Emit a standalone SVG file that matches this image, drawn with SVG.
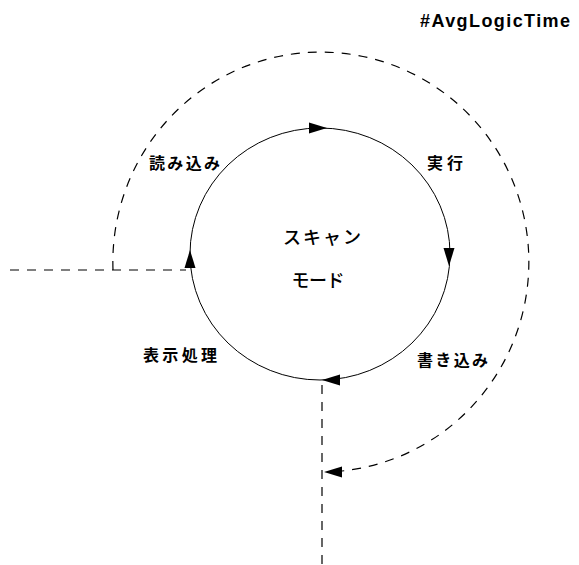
<svg xmlns="http://www.w3.org/2000/svg" width="579" height="565" viewBox="0 0 579 565">
<style>
.lbl{font-family:"Noto Sans CJK JP","Noto Sans",sans-serif;font-size:16px;font-weight:bold;fill:#000}
.ctr{font-family:"Noto Sans CJK JP","Noto Sans",sans-serif;font-size:18px;font-weight:500;fill:#000}
.dash{fill:none;stroke:#000;stroke-width:1.2;stroke-dasharray:9 8}
.solid{fill:none;stroke:#000;stroke-width:1}
.ah{fill:#000}
</style>
<defs>
<path id="arrow" d="M0,0 L-18,-5.5 L-18,5.5 Z"/>
</defs>
<rect width="579" height="565" fill="#fff"/>
<g id="title"><text x="570" y="27" text-anchor="end" style="font-family:'Liberation Sans',sans-serif;font-size:18px;font-weight:bold" textLength="150" lengthAdjust="spacing">#AvgLogicTime</text></g>
<g id="scan-mode">
<ellipse class="solid" cx="320" cy="254" rx="130" ry="126"/>
<text class="ctr" x="322" y="244" text-anchor="middle" textLength="78" lengthAdjust="spacing">スキャン</text>
<text class="ctr" x="318" y="287" text-anchor="middle" textLength="53" lengthAdjust="spacing">モード</text>
</g>
<g id="read"><text class="lbl" x="149" y="169" textLength="71" lengthAdjust="spacing">読み込み</text></g>
<g id="exec"><text class="lbl" x="427" y="169" textLength="36" lengthAdjust="spacing">実行</text></g>
<g id="write"><text class="lbl" x="417" y="366" textLength="71" lengthAdjust="spacing">書き込み</text></g>
<g id="display"><text class="lbl" x="143" y="361" textLength="74" lengthAdjust="spacing">表示処理</text></g>
<g id="connectors">
<path class="dash" d="M10,270 H186"/>
<path class="dash" d="M113,270 A208 210 0 1 1 342,471"/>
<path class="dash" d="M322,385 V565"/>
<use href="#arrow" class="ah" transform="translate(327,128)"/>
<use href="#arrow" class="ah" transform="translate(449,266) rotate(90)"/>
<use href="#arrow" class="ah" transform="translate(322,380) rotate(180)"/>
<use href="#arrow" class="ah" transform="translate(190,250) rotate(-90)"/>
<use href="#arrow" class="ah" transform="translate(324,472) rotate(180)"/>
</g>
</svg>
